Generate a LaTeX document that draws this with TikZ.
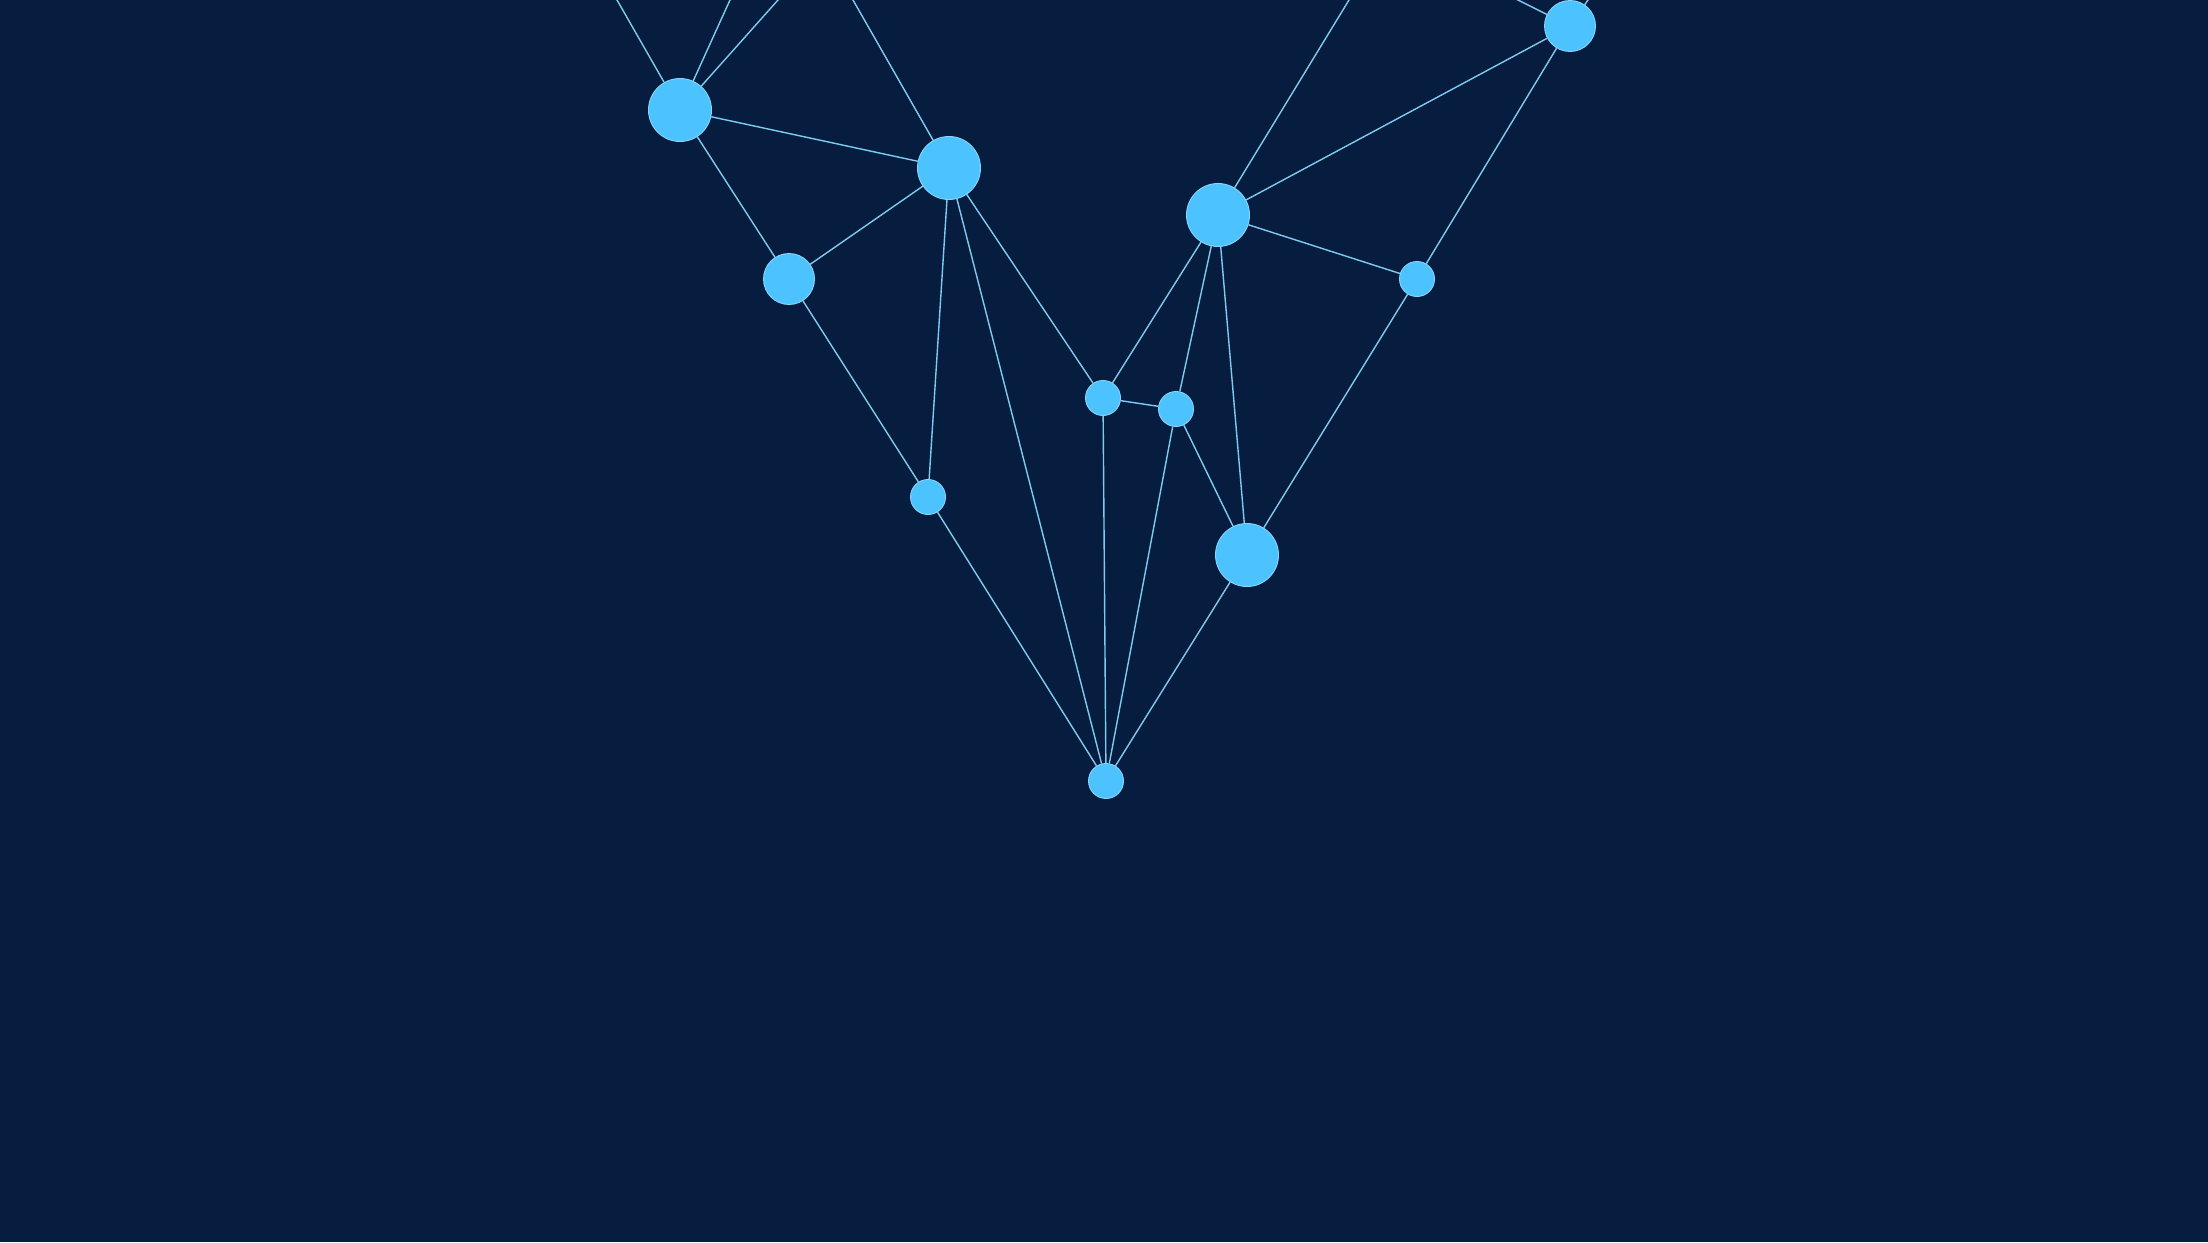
\documentclass[tikz,border=0pt]{standalone}
\usetikzlibrary{backgrounds,calc}
\definecolor{bgnavy}{HTML}{061D3F}
\definecolor{nodeblue}{HTML}{4CC2FF}
\definecolor{nodeedge}{HTML}{86D6FF}
\definecolor{edgeblue}{HTML}{7FCBF0}
\begin{document}
\begin{tikzpicture}[x=1pt,y=-1pt,
  big/.style={circle,fill=nodeblue,draw=nodeedge,line width=0.9pt,minimum size=63pt,inner sep=0pt},
  mid/.style={circle,fill=nodeblue,draw=nodeedge,line width=0.9pt,minimum size=51pt,inner sep=0pt},
  small/.style={circle,fill=nodeblue,draw=nodeedge,line width=0.9pt,minimum size=35pt,inner sep=0pt},
  link/.style={draw=edgeblue,line width=1.4pt}]
\useasboundingbox (0,0) rectangle (2208,1242);
% nodes
\node[big]   (A) at (680,110) {};
\node[big]   (B) at (949,168) {};
\node[mid]   (C) at (789,279) {};
\node[small] (D) at (928,497) {};
\node[small] (E) at (1103,398) {};
\node[small] (F) at (1176,409) {};
\node[big]   (G) at (1218,215) {};
\node[small] (H) at (1417,279) {};
\node[big]   (I) at (1247,555) {};
\node[small] (J) at (1106,781) {};
\node[mid]   (K) at (1570,26) {};
% off-frame ends
\coordinate (a1) at ($(680,110)!1.2!(617,0)$);
\coordinate (a2) at ($(680,110)!1.2!(730,0)$);
\coordinate (a3) at ($(680,110)!1.2!(778,0)$);
\coordinate (b1) at ($(949,168)!1.2!(853,0)$);
\coordinate (g1) at ($(1218,215)!1.2!(1349,0)$);
\coordinate (k1) at ($(1570,26)!3!(1518,0)$);
\coordinate (k2) at ($(1570,26)!3!(1588,0)$);
\begin{scope}[on background layer]
\fill[bgnavy] (0,0) rectangle (2208,1242);
\path[link] (A) -- (a1) (A) -- (a2) (A) -- (a3)
  (A) -- (B) (A) -- (C)
  (B) -- (b1) (B) -- (C) (B) -- (D) (B) -- (J) (B) -- (E)
  (C) -- (D) (D) -- (J)
  (E) -- (J) (E) -- (F) (E) -- (G)
  (F) -- (G) (F) -- (J) (F) -- (I)
  (G) -- (I) (G) -- (K) (G) -- (H) (G) -- (g1)
  (H) -- (K) (H) -- (I) (I) -- (J)
  (K) -- (k1) (K) -- (k2);
\end{scope}
\end{tikzpicture}
\end{document}
